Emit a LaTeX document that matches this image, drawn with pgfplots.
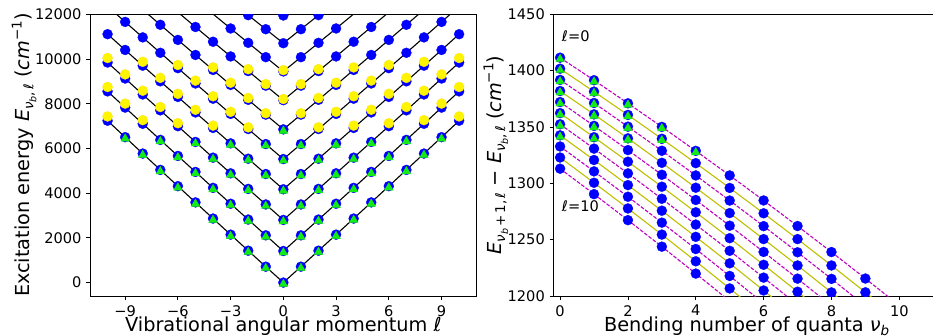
\documentclass[border=0pt]{standalone}
\usepackage{fontspec}
\setmainfont{DejaVu Sans}
\usepackage{pgfplots}
\pgfplotsset{compat=1.18}
\usepackage{pgfplotstable}

\definecolor{mplmag}{rgb}{0.75,0,0.75}
\definecolor{mplolive}{rgb}{0.75,0.75,0}
\definecolor{trigreen}{RGB}{20,235,20}
\definecolor{ptyellow}{RGB}{255,245,0}

% Excitation energies E(n,l): one column per radial level n, rows l = -10..10
\pgfplotstableread{
l   n0     n1     n2     n3      n4      n5      n6      n7      n8      n9
-10 7240.0 8553.0 9843.4 11110.7 12354.5 nan     nan     nan     nan     nan
-9  6504.3 7827.2 9127.6 10405.3 11659.8 12890.6 nan     nan     nan     nan
-8  5771.2 7103.9 8414.5 9702.6  10967.6 12209.3 nan     nan     nan     nan
-7  5040.7 6383.3 7704.0 9002.4  10278.1 11530.7 12759.6 nan     nan     nan
-6  4312.8 5665.2 6996.0 8304.8  9591.2  10854.6 12094.7 nan     nan     nan
-5  3587.5 4949.8 6290.7 7609.9  8906.8  10181.2 11432.4 12660.1 nan     nan
-4  2864.8 4236.9 5587.9 6917.5  8225.1  9510.3  10772.7 12011.8 nan     nan
-3  2144.7 3526.7 4887.8 6227.7  7545.9  8842.1  10115.6 11366.2 12593.3 nan
-2  1427.2 2819.0 4190.3 5540.5  6869.4  8176.4  9461.1  10723.1 11961.8 nan
-1  712.3  2114.0 3495.3 4856.0  6195.5  7513.4  8809.2  10082.6 11333.0 12560.1
0   0.0    1411.5 2803.0 4174.0  5524.1  6852.9  8159.9  9444.7  10706.8 11945.8
1   712.3  2114.0 3495.3 4856.0  6195.5  7513.4  8809.2  10082.6 11333.0 12560.1
2   1427.2 2819.0 4190.3 5540.5  6869.4  8176.4  9461.1  10723.1 11961.8 nan
3   2144.7 3526.7 4887.8 6227.7  7545.9  8842.1  10115.6 11366.2 12593.3 nan
4   2864.8 4236.9 5587.9 6917.5  8225.1  9510.3  10772.7 12011.8 nan     nan
5   3587.5 4949.8 6290.7 7609.9  8906.8  10181.2 11432.4 12660.1 nan     nan
6   4312.8 5665.2 6996.0 8304.8  9591.2  10854.6 12094.7 nan     nan     nan
7   5040.7 6383.3 7704.0 9002.4  10278.1 11530.7 12759.6 nan     nan     nan
8   5771.2 7103.9 8414.5 9702.6  10967.6 12209.3 nan     nan     nan     nan
9   6504.3 7827.2 9127.6 10405.3 11659.8 12890.6 nan     nan     nan     nan
10  7240.0 8553.0 9843.4 11110.7 12354.5 nan     nan     nan     nan     nan
}\tabE

% Second set of energies (yellow)
\pgfplotstableread{
l   E
-10 7430.0
10  7430.0
-10 8748.0
-9  8005.2
-8  7264.9
8   7264.9
9   8005.2
10  8748.0
-10 10043.4
-9  9310.6
-8  8580.5
-7  7853.0
-6  7128.0
6   7128.0
7   7853.0
8   8580.5
9   9310.6
10  10043.4
-8  9873.6
-7  9156.4
-6  8441.8
-5  7729.9
-4  7020.5
4   7020.5
5   7729.9
6   8441.8
7   9156.4
8   9873.6
-6  9733.2
-5  9031.8
-4  8333.1
-3  7636.9
-2  6943.4
2   6943.4
3   7636.9
4   8333.1
5   9031.8
6   9733.2
-4  9623.3
-3  8938.1
-2  8255.4
-1  7575.4
1   7575.4
2   8255.4
3   8938.1
4   9623.3
-2  9545.1
-1  8876.2
0   8209.9
1   8876.2
2   9545.1
0   9499.7
}\tabY

% Third set of energies (green)
\pgfplotstableread{
l  E
-9 6504.3
-8 5771.2
-7 5040.7
-6 4312.8
-5 3587.5
-4 2864.8
-3 2144.7
-2 1427.2
-1 712.3
0  0.0
1  712.3
2  1427.2
3  2144.7
4  2864.8
5  3587.5
6  4312.8
7  5040.7
8  5771.2
9  6504.3
-7 6383.3
-6 5665.2
-5 4949.8
-4 4236.9
-3 3526.7
-2 2819.0
-1 2114.0
0  1411.5
1  2114.0
2  2819.0
3  3526.7
4  4236.9
5  4949.8
6  5665.2
7  6383.3
-5 6290.7
-4 5587.9
-3 4887.8
-2 4190.3
-1 3495.3
0  2803.0
1  3495.3
2  4190.3
3  4887.8
4  5587.9
5  6290.7
-3 6227.7
-2 5540.5
-1 4856.0
0  4174.0
1  4856.0
2  5540.5
3  6227.7
-1 6195.5
0  5524.1
1  6195.5
0  6852.9
}\tabG

% Spacings E(n+1,l) - E(n,l): one column per l, rows n = 0..10
\pgfplotstableread{
n  l0     l1     l2     l3     l4     l5     l6     l7     l8     l9     l10
0  1411.5 1401.7 1391.8 1381.9 1372.1 1362.3 1352.4 1342.6 1332.7 1322.9 1313.0
1  1391.5 1381.4 1371.3 1361.2 1351.0 1340.9 1330.8 1320.7 1310.6 1300.5 1290.4
2  1371.0 1360.7 1350.3 1339.9 1329.5 1319.2 1308.8 1298.4 1288.1 1277.7 1267.3
3  1350.1 1339.5 1328.9 1318.2 1307.6 1297.0 1286.3 1275.7 1265.1 1254.5 1243.8
4  1328.8 1317.9 1307.0 1296.1 1285.2 1274.3 1263.4 1252.5 1241.7 1230.8 1219.9
5  1307.0 1295.9 1284.7 1273.6 1262.4 1251.3 1240.1 1229.0 1217.8 1206.7 1195.5
6  1284.8 1273.4 1262.0 1250.5 1239.1 1227.7 1216.3 1204.9 1193.5 1182.1 nan
7  1262.1 1250.5 1238.8 1227.1 1215.4 1203.8 1192.1 1180.4 nan    nan    nan
8  1239.0 1227.1 1215.2 1203.2 1191.3 1179.4 nan    nan    nan    nan    nan
9  1215.5 1203.3 1191.1 1178.9 nan    nan    nan    nan    nan    nan    nan
10 1191.5 1179.1 nan    nan    nan    nan    nan    nan    nan    nan    nan
}\tabD

% Spacings with the green reference values
\pgfplotstableread{
n dE
0 1411.5
0 1401.7
0 1391.8
0 1381.9
0 1372.1
0 1362.3
0 1352.4
0 1342.6
1 1391.5
1 1381.4
1 1371.3
1 1361.2
1 1351.0
1 1340.9
2 1371.0
2 1360.7
2 1350.3
2 1339.9
3 1350.1
3 1339.5
4 1328.8
}\tabDG

\newcommand{\tickfont}{\fontsize{14.6}{17}\selectfont}
\newcommand{\labfont}{\fontsize{19.3}{22}\selectfont}
% sub- and superscripts for the axis labels (label size 19.3pt)
\newcommand{\lsub}[1]{\raisebox{-4.2pt}{\fontsize{13.5}{15}\selectfont #1}}
\newcommand{\lssub}[1]{\raisebox{-2.9pt}{\fontsize{9.5}{11}\selectfont #1}}
\newcommand{\lsup}[1]{\raisebox{7.6pt}{\fontsize{13.5}{15}\selectfont #1}}

\pgfplotsset{
  panel/.style={
    scale only axis, width=386.7pt, height=281.7pt, anchor=south west,
    axis line style={black, line width=0.8pt},
    tick align=outside, tick pos=left, major tick length=3.5pt,
    tick style={black, line width=0.8pt},
    tick label style={font=\tickfont, inner sep=0pt},
    xticklabel style={anchor=north, yshift=-5.5pt},
    yticklabel style={anchor=east, xshift=-4.8pt},
    every axis x label/.style={anchor=base, font=\labfont},
    every axis y label/.style={rotate=90, anchor=base, font=\labfont},
    clip marker paths=true,
    scaled ticks=false,
  },
  bluemk/.style={only marks, mark=*, mark size=5pt,
    mark options={fill=blue, draw=blue, line width=0.3pt}},
  yelmk/.style={only marks, mark=*, mark size=5pt,
    mark options={fill=ptyellow, draw=ptyellow!85!orange, line width=0.3pt}},
  grnmk/.style={only marks, mark=triangle*, mark size=5pt,
    mark options={fill=trigreen, draw=trigreen, line width=0.3pt, yshift=-1.5pt}},
}

\begin{document}
\begin{tikzpicture}[x=1pt,y=1pt]
\useasboundingbox (0,0) rectangle (933,335);
\clip (0,0) rectangle (933,335);

% Left: energy levels against vibrational angular momentum
\begin{axis}[panel, at={(90pt,39pt)},
  xmin=-11, xmax=11, ymin=-600, ymax=12000,
  xtick={-9,-6,-3,0,3,6,9}, xticklabels={−9,−6,−3,0,3,6,9},
  ytick={0,2000,4000,6000,8000,10000,12000},
  yticklabels={0,2000,4000,6000,8000,10000,12000},
  xlabel={Vibrational angular momentum \textit{ℓ}},
  ylabel={Excitation energy \textit{E}\lsub{\textit{ν}\lssub{\textit{b}},\,\textit{ℓ}} (\textit{cm}\lsup{−1})},
  xlabel style={at={(axis description cs:0.5,-0.127)}},
  ylabel style={at={(axis description cs:-0.157,0.5)}},
]
\pgfplotsinvokeforeach{0,...,9}{
  \addplot[black, line width=1.1pt, no markers] table[x=l, y=n#1]{\tabE};
}
\pgfplotsinvokeforeach{0,...,9}{
  \addplot[bluemk] table[x=l, y=n#1]{\tabE};
}
\addplot[yelmk] table[x=l, y=E]{\tabY};
\addplot[grnmk] table[x=l, y=E]{\tabG};
\end{axis}

% Right: level spacings against bending quanta
\begin{axis}[panel, at={(553.3pt,39pt)},
  xmin=-0.2, xmax=11.2, ymin=1200, ymax=1450,
  xtick={0,2,4,6,8,10}, xticklabels={0,2,4,6,8,10},
  ytick={1200,1250,1300,1350,1400,1450},
  yticklabels={1200,1250,1300,1350,1400,1450},
  xlabel={Bending number of quanta \textit{ν}\lsub{\textit{b}}},
  ylabel={\textit{E}\lsub{\textit{ν}\lssub{\textit{b}}\,+\,1,\,\textit{ℓ}} − \textit{E}\lsub{\textit{ν}\lssub{\textit{b}},\,\textit{ℓ}} (\textit{cm}\lsup{−1})},
  xlabel style={at={(axis description cs:0.5,-0.127)}},
  ylabel style={at={(axis description cs:-0.1352,0.5)}},
]
\pgfplotsinvokeforeach{0,2,4,6,8,10}{
  \addplot[mplmag, line width=1.1pt, dash pattern=on 3.7pt off 1.6pt, no markers] table[x=n, y=l#1]{\tabD};
}
\pgfplotsinvokeforeach{1,3,5,7,9}{
  \addplot[mplolive, line width=1.1pt, no markers] table[x=n, y=l#1]{\tabD};
}
\pgfplotsinvokeforeach{0,...,10}{
  \addplot[bluemk] table[x=n, y=l#1]{\tabD};
}
\addplot[grnmk] table[x=n, y=dE]{\tabDG};
\node[anchor=base west, inner sep=0pt, font=\tickfont] at (axis cs:0.05,1426) {\textit{ℓ}=0};
\node[anchor=base west, inner sep=0pt, font=\tickfont] at (axis cs:0.05,1275) {\textit{ℓ}=10};
\end{axis}
\end{tikzpicture}
\end{document}
